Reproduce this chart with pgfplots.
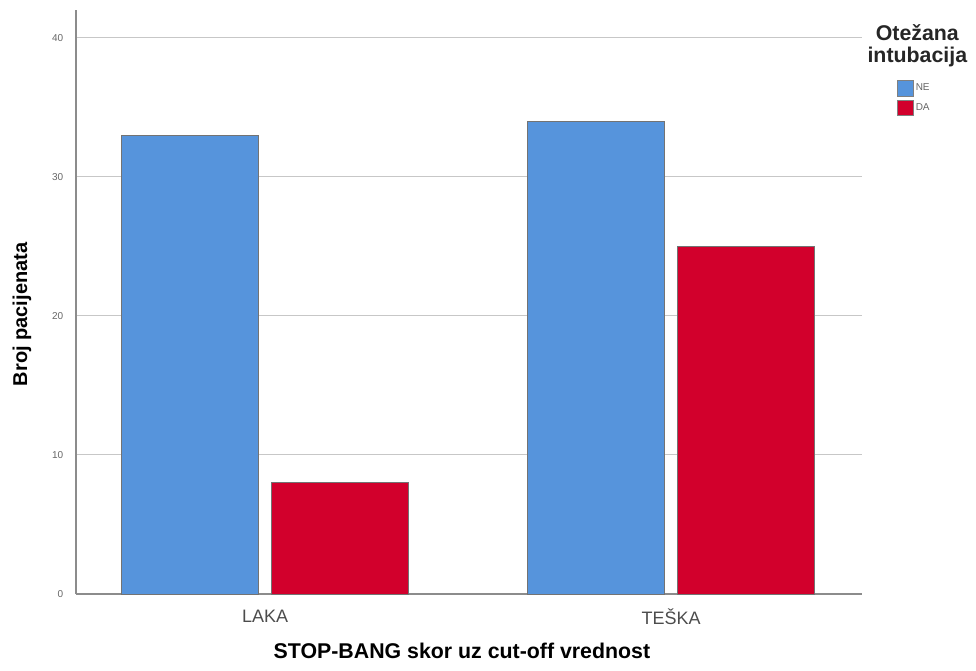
\documentclass[border=0pt]{standalone}
\usepackage{fontspec}
\setmainfont{Liberation Sans}
\usepackage{pgfplots}
\pgfplotsset{compat=1.18}
\definecolor{speBlue}{RGB}{86,148,220}
\definecolor{speRed}{RGB}{210,0,44}
\begin{document}
\begin{tikzpicture}
\useasboundingbox (0pt,0pt) rectangle (732pt,503.25pt);
\begin{axis}[
  at={(57pt,57.75pt)}, anchor=south west, scale only axis,
  width=589.5pt, height=438pt,
  xmin=-0.466, xmax=1.47, ymin=0, ymax=42,
  axis lines=left, axis line style={black!45, -, line width=0.9pt},
  xtick={0,1}, xticklabels={LAKA,TEŠKA},
  ytick={0,10,20,30,40},
  ymajorgrids, grid style={black!22, line width=0.7pt},
  major tick length=0pt,
  /pgf/number format/assume math mode=true,
  yticklabel style={font=\fontsize{7.5}{8}\selectfont, text=black!60, xshift=-6pt},
  xticklabel style={font=\fontsize{13.5}{15}\selectfont, text=black!70, anchor=center, yshift=-17pt},
  ylabel={\textbf{Broj pacijenata}},
  ylabel style={font=\fontsize{15}{17}\selectfont, at={(rel axis cs:0,0.479)}, anchor=center, yshift=40.5pt},
  xlabel={\textbf{STOP-BANG skor uz cut-off vrednost}},
  xlabel style={font=\fontsize{16}{17}\selectfont, at={(rel axis cs:0.491,0)}, anchor=base, yshift=-48.5pt},
  legend style={at={(rel axis cs:1.0445,0.88)}, anchor=north west, draw=none, fill=none,
    font=\fontsize{7.5}{8}\selectfont, text=black!60, row sep=2.75pt, inner sep=0pt,
    nodes={inner sep=2pt}},
  legend cell align=left,
  legend image code/.code={\draw[#1, draw=black!50, line width=0.4pt] (0pt,-5.75pt) rectangle (11.5pt,5.75pt);},
  clip=false,
]
\addplot[ybar, bar width=0.337, bar shift=-0.186, fill=speBlue, draw=black!55, line width=0.6pt]
  coordinates {(0,33) (1,34)};
\addlegendentry{NE}
\addplot[ybar, bar width=0.337, bar shift=0.185, fill=speRed, draw=black!55, line width=0.6pt]
  coordinates {(0,8) (1,25)};
\addlegendentry{DA}
\end{axis}
\node[font=\bfseries\fontsize{16}{16}\selectfont, align=center, text=black!85] at (688pt,469pt) {Otežana\\intubacija};
\end{tikzpicture}
\end{document}
